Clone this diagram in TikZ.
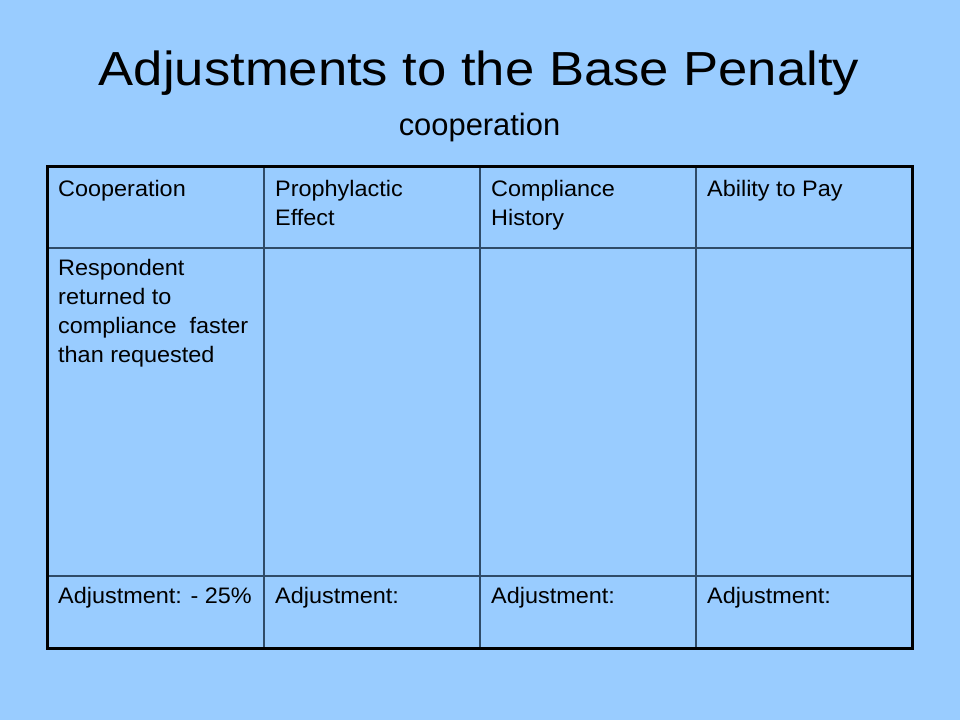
\documentclass[tikz,border=0pt]{standalone}
\usepackage{graphicx}
\usepackage{fontspec}
\setmainfont{Liberation Sans}
\definecolor{bgblue}{HTML}{99CCFF}
\definecolor{gridline}{HTML}{2F4B68}
\newcommand{\celltxt}[1]{\scalebox{1.045}[1]{#1}}
\newcommand{\titletxt}[1]{\scalebox{1.1}[1]{#1}}
\begin{document}
\begin{tikzpicture}[x=1bp,y=-1bp,
  cell/.style={anchor=base west,inner sep=0pt,font=\fontsize{22.5}{29}\selectfont},
  titletext/.style={anchor=base,inner sep=0pt,font=\fontsize{48}{56}\selectfont},
  subtext/.style={anchor=base,inner sep=0pt,font=\fontsize{31}{36}\selectfont},
  inner line/.style={draw=gridline,line width=1.5bp},
  outer line/.style={draw=black,line width=3bp}]
\fill[bgblue] (0,0) rectangle (960,720);
\useasboundingbox (0,0) rectangle (960,720);
\node[titletext] (title) at (479,86) {\titletxt{Adjustments to the Base Penalty}};
\node[subtext] (sub) at (479.5,136) {cooperation};
% grid
\coordinate (tl) at (47,167);
\coordinate (br) at (912,648);
\draw[inner line] (264,167) -- (264,648);
\draw[inner line] (480,167) -- (480,648);
\draw[inner line] (696,167) -- (696,648);
\draw[inner line] (47,248) -- (912,248);
\draw[inner line] (47,576) -- (912,576);
\draw[outer line] (tl) rectangle (br);
% header row
\node[cell] (h1) at (58,196) {\celltxt{Cooperation}};
\node[cell] (h2) at (275,196) {\celltxt{\parbox[t]{200bp}{\baselineskip=29bp Prophylactic\\Effect}}};
\node[cell] (h3) at (491,196) {\celltxt{\parbox[t]{200bp}{\baselineskip=29bp Compliance\\History}}};
\node[cell] (h4) at (707,196) {\celltxt{Ability to Pay}};
% body
\node[cell] (b1) at (58,275) {\celltxt{\parbox[t]{200bp}{\baselineskip=29bp Respondent\\returned to\\compliance\ \ faster\\than requested}}};
% adjustment row
\node[cell] (a1) at (58,603) {\celltxt{Adjustment: - 25\%}};
\node[cell] (a2) at (275,603) {\celltxt{Adjustment:}};
\node[cell] (a3) at (491,603) {\celltxt{Adjustment:}};
\node[cell] (a4) at (707,603) {\celltxt{Adjustment:}};
\end{tikzpicture}
\end{document}
